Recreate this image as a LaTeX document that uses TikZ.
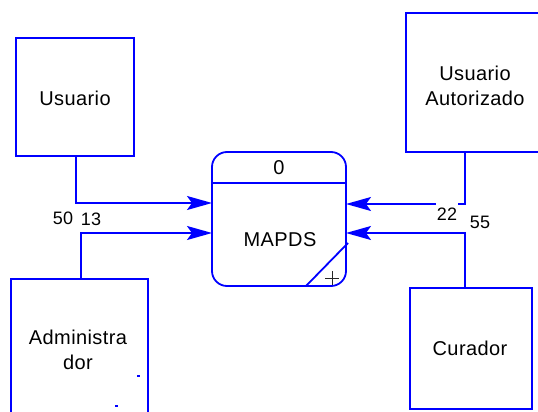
\documentclass[tikz,border=0pt]{standalone}
\usepackage{fontspec}
\setmainfont{Liberation Sans}[LetterSpace=2]
\usetikzlibrary{arrows.meta,calc}
\definecolor{dfdblue}{RGB}{0,0,255}
\begin{document}
\begin{tikzpicture}[x=1pt,y=-1pt,
  entity/.style={draw=dfdblue,line width=1.8pt,rectangle,inner sep=0pt,
    align=center,font=\fontsize{20}{25}\selectfont},
  txt/.style={inner sep=0pt,align=center,font=\fontsize{20}{25}\selectfont},
  flowlbl/.style={inner sep=1pt,fill=white,font=\fontsize{18}{20}\selectfont},
  flow/.style={draw=dfdblue,line width=1.8pt,-{Stealth[length=25pt,width=14pt,inset=5pt]}},
  proc/.style={draw=dfdblue,line width=1.8pt,rectangle,rounded corners=15pt,inner sep=0pt,
    minimum width=134pt,minimum height=134pt},
  tiny/.style={fill=dfdblue,inner sep=0pt,minimum width=3pt,minimum height=2pt}]
\useasboundingbox (0,0) rectangle (538,412);
\clip (0,0) rectangle (538,412);
% external entities
\node[entity,minimum width=118pt,minimum height=118pt] (usu) at (75,97) {};
\node[txt] (usut) at (75,98) {Usuario};
\node[entity,minimum width=139pt,minimum height=139pt] (ua) at (475.5,82.5) {};
\node[txt] (uat) at (475,86) {Usuario\\Autorizado};
\node[entity,minimum width=137pt,minimum height=142pt] (adm) at (79.5,350) {};
\node[txt] (admt) at (78,350) {Administra\\dor};
\node[entity,minimum width=122pt,minimum height=121pt] (cur) at (471,348.5) {};
\node[txt] (curt) at (470,348) {Curador};
% process
\node[proc] (p) at (279,219) {};
\coordinate (hl) at (212,183);
\coordinate (hr) at (346,183);
\draw[draw=dfdblue,line width=1.8pt] (hl) -- (hr);
\node[txt] (pid) at (279,168) {0};
\node[txt] (pname) at (280,240) {MAPDS};
\coordinate (d1) at (306,286);
\coordinate (d2) at (348,243);
\draw[draw=dfdblue,line width=1.8pt] (d1) -- (d2);
\coordinate (pc) at (332,278);
\draw[line width=0.9pt,black!85] ($(pc)+(-7,0)$) -- ($(pc)+(7,0)$) ($(pc)+(0,-7)$) -- ($(pc)+(0,7)$);
% flow corner coordinates
\coordinate (c1) at (76,203);
\coordinate (c2) at (81,233);
\coordinate (c3) at (465,204);
\coordinate (c4) at (465,233);
\coordinate (usub) at (76,156);
\coordinate (admtop) at (81,279);
\coordinate (uab) at (465,152);
\coordinate (curtop) at (465,288);
\coordinate (pw1) at (212,203);
\coordinate (pw2) at (212,233);
\coordinate (pe1) at (346,204);
\coordinate (pe2) at (346,233);
\draw[flow] (usub) -- (c1) -- (pw1);
\draw[flow] (admtop) -- (c2) -- (pw2);
\draw[flow] (uab) -- (c3) -- (pe1);
\draw[flow] (curtop) -- (c4) -- (pe2);
% labels
\node[flowlbl] (l50) at (63,218) {50};
\node[flowlbl] (l13) at (91,219) {13};
\node[flowlbl,inner ysep=6pt] (l22) at (447,214) {22};
\node[flowlbl] (l55) at (480,222) {55};
% stray dots
\node[tiny] (dot1) at (138,376) {};
\node[tiny] (dot2) at (116,406) {};
\end{tikzpicture}
\end{document}
